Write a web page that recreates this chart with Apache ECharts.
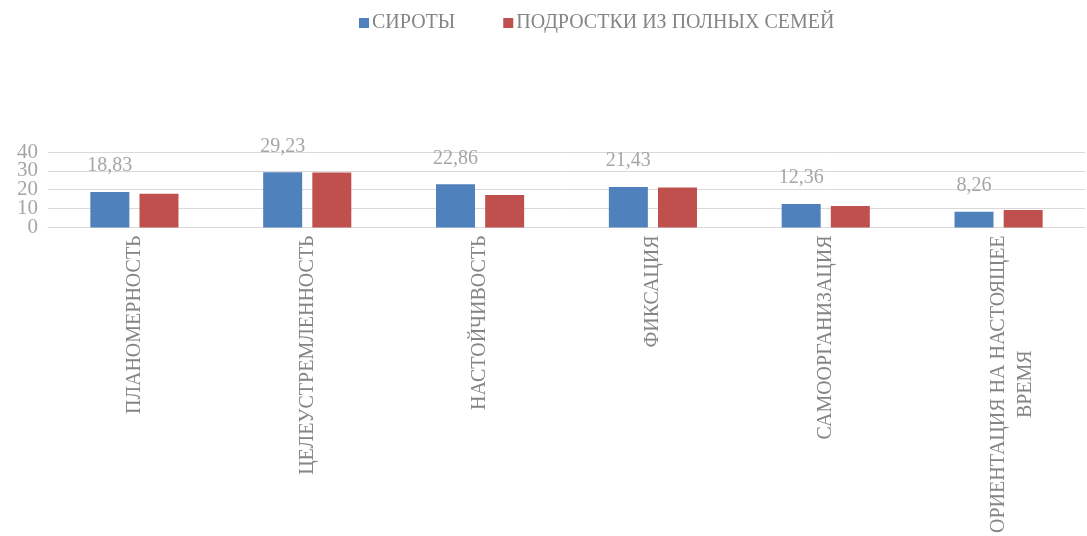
<!DOCTYPE html>
<html>
<head>
<meta charset="utf-8">
<script src="https://cdn.jsdelivr.net/npm/echarts@6/dist/echarts.min.js"></script>
<style>html,body{margin:0;padding:0;background:#fff}#c{width:1087px;height:536px}</style>
</head>
<body>
<div id="c"></div>
<script>
var categories = ["ПЛАНОМЕРНОСТЬ", "ЦЕЛЕУСТРЕМЛЕННОСТЬ", "НАСТОЙЧИВОСТЬ", "ФИКСАЦИЯ", "САМООРГАНИЗАЦИЯ", "ОРИЕНТАЦИЯ НА НАСТОЯЩЕЕ\nВРЕМЯ"];
var seriesNames = ["СИРОТЫ", "ПОДРОСТКИ ИЗ ПОЛНЫХ СЕМЕЙ"];
var orphans = [18.83, 29.23, 22.86, 21.43, 12.36, 8.26];
var fullFamilies = [17.9, 29.1, 17.2, 21.2, 11.3, 9.2];
var yTicks = [0, 10, 20, 30, 40];
var yTicksOdd = [10, 30];

var font = "'Liberation Serif', serif";
var catColor = '#858585';
var xData = categories.map(function (c) {
  if (c.indexOf('\n') < 0) return c;
  return { value: c, textStyle: { padding: [28, 0, 0, 0] } };
});
var chart = echarts.init(document.getElementById('c'));
chart.setOption({
  animation: false,
  textStyle: { fontFamily: font },
  legend: {
    top: 8, left: 354,
    itemWidth: 10, itemHeight: 10, itemGap: 48,
    icon: 'rect',
    textStyle: { color: catColor, fontSize: 20, fontFamily: font, padding: [0, 0, 0, -2] },
    data: seriesNames
  },
  grid: { left: 48, right: 2, top: 152, bottom: 307 },
  xAxis: {
    type: 'category',
    data: xData,
    axisLine: { lineStyle: { color: '#d9d9d9' } },
    axisTick: { show: false },
    axisLabel: {
      interval: 0, rotate: 90, margin: 8,
      color: catColor, fontSize: 20, fontFamily: font,
      formatter: function (v) {
        var parts = v.split('\n');
        if (parts.length === 1) return v;
        return '{a|' + parts[0] + '}\n{b|' + parts[1] + '}';
      },
      rich: {
        a: { color: catColor, fontSize: 20, fontFamily: font, lineHeight: 27 },
        b: { color: catColor, fontSize: 20, fontFamily: font, lineHeight: 27, align: 'center' }
      }
    }
  },
  yAxis: [
    {
      type: 'value', position: 'left', min: yTicks[0], max: yTicks[yTicks.length - 1], interval: 10,
      axisLine: { show: false }, axisTick: { show: false },
      axisLabel: {
        color: '#a6a6a6', fontSize: 21, fontFamily: font, margin: 10,
        showMinLabel: true, showMaxLabel: true
      },
      splitLine: { lineStyle: { color: '#d9d9d9', width: 1 } }
    },
    {
      type: 'value', position: 'left', offset: 0, min: yTicks[0], max: yTicks[yTicks.length - 1], interval: 10,
      axisLine: { show: false }, axisTick: { show: false }, splitLine: { show: false },
      axisLabel: {
        color: '#a6a6a6', fontSize: 21, fontFamily: font, margin: 10,
        showMinLabel: false, showMaxLabel: false,
        formatter: function (v) { return yTicksOdd.indexOf(v) >= 0 ? String(v) : ''; }
      }
    }
  ],
  series: [
    {
      name: seriesNames[0], type: 'bar', data: orphans, yAxisIndex: 0,
      barWidth: 39, barGap: '26%',
      itemStyle: { color: '#4f81bd' },
      label: {
        show: true, position: 'top', distance: 16,
        color: '#a6a6a6', fontSize: 20, fontFamily: font,
        formatter: function (p) { return String(p.value).replace('.', ','); }
      }
    },
    {
      name: seriesNames[1], type: 'bar', data: fullFamilies, yAxisIndex: 0,
      barWidth: 39,
      itemStyle: { color: '#c0504d' }
    }
  ]
});
</script>
</body>
</html>
